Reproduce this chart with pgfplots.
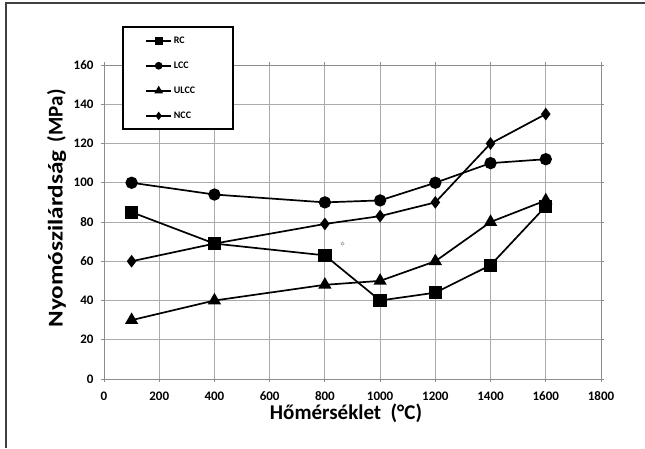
\documentclass[border=0pt]{standalone}
\usepackage{fontspec}
\setmainfont{Carlito}
\usepackage{graphicx}
\usepackage{pgfplots}
\pgfplotsset{compat=1.18}
\begin{document}
\begin{tikzpicture}[x=1pt,y=1pt]
\useasboundingbox (0,0) rectangle (645,448);
\draw[black!75, line width=1.2pt] (6,0) -- (6,445) -- (645,445);
\begin{axis}[
  at={(104pt,69pt)}, anchor=south west,
  scale only axis, width=497pt, height=314pt,
  xmin=0, xmax=1800, ymin=0, ymax=160,
  xtick={0,200,...,1800}, ytick={0,20,...,160},
  grid=major, grid style={black!33, line width=0.8pt},
  axis line style={black!45, line width=0.9pt},
  tick style={black!45, line width=0.8pt}, tick align=outside, major tick length=3pt,
  ticklabel style={font=\bfseries\fontsize{13}{15}\selectfont},
  yticklabel style={xshift=-4pt},
  xticklabel style={yshift=-6pt},
  /pgf/number format/assume math mode=true,
  /pgf/number format/1000 sep={},
  xlabel={Hőmérséklet\hspace{0.45em}(°C)},
  ylabel={\scalebox{1.2}[1]{Nyomószilárdság}\hspace{0.4em}(MPa)},
  xlabel style={at={(axis description cs:0.487,-0.108)}, anchor=center, font=\bfseries\fontsize{21}{24}\selectfont},
  ylabel style={at={(axis description cs:-0.0956,0.543)}, anchor=center, font=\bfseries\fontsize{21}{24}\selectfont},
  legend style={at={(axis description cs:0.036,1.124)}, anchor=north west,
    draw=black, line width=2.2pt, fill=white,
    inner xsep=22pt, inner ysep=8pt, row sep=14pt,
    nodes={font=\bfseries\fontsize{10}{11}\selectfont, text width=36pt, align=left, inner sep=1.5pt}},
  legend cell align=left,
  legend image code/.code={%
    \draw[line width=1.8pt,mark repeat=2,mark phase=2,every mark/.append style={scale=0.55}]
      plot coordinates {(0cm,0cm) (0.45cm,0cm) (0.9cm,0cm)};},
]
\addplot[black, line width=1.7pt, mark=square*, mark size=5.8pt, mark options={fill=black}]
  coordinates {(100,85) (400,69) (800,63) (1000,40) (1200,44) (1400,58) (1600,88)};
\addlegendentry{RC}
\addplot[black, line width=1.7pt, mark=*, mark size=5.3pt, mark options={fill=black}]
  coordinates {(100,100) (400,94) (800,90) (1000,91) (1200,100) (1400,110) (1600,112)};
\addlegendentry{LCC}
\addplot[black, line width=1.7pt, mark=triangle*, mark size=6pt, mark options={fill=black}]
  coordinates {(100,30) (400,40) (800,48) (1000,50) (1200,60) (1400,80) (1600,91)};
\addlegendentry{ULCC}
\addplot[black, line width=1.7pt, mark=diamond*, mark size=5pt, mark options={fill=black}]
  coordinates {(100,60) (400,69) (800,79) (1000,83) (1200,90) (1400,120) (1600,135)};
\addlegendentry{NCC}
\addplot[black!40, only marks, mark=o, mark size=1.6pt, line width=0.6pt, forget plot]
  coordinates {(864,69)};
\end{axis}
\end{tikzpicture}
\end{document}
